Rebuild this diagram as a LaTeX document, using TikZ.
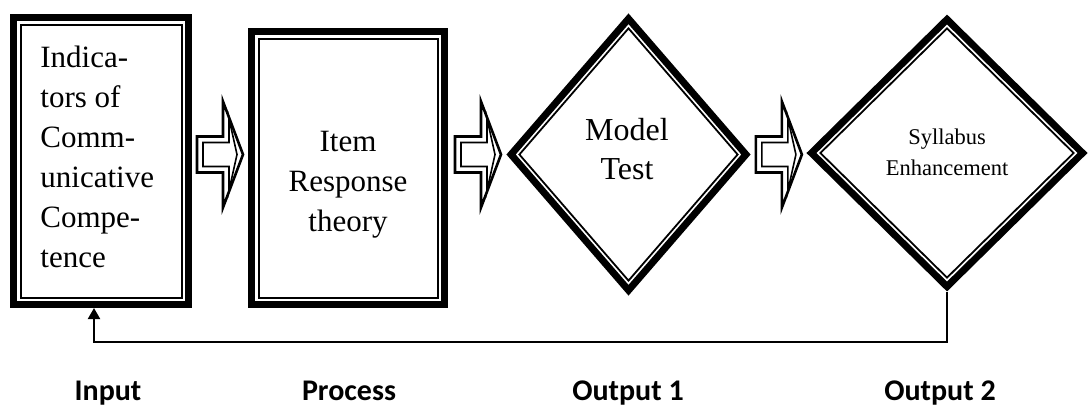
\documentclass[tikz,border=0pt]{standalone}
\usepackage{fontspec}
\setmainfont{Liberation Serif}
\newfontfamily\labelfont{Carlito}
\usetikzlibrary{shapes.geometric,arrows.meta,calc}

\tikzset{
  thickframe/.style={draw, line width=3.5pt, inner sep=0pt},
  thinframe/.style={draw, line width=1pt, inner sep=0pt},
  boxtext/.style={font=\fontsize{15.5}{20}\selectfont, inner sep=0pt},
  stagelabel/.style={font=\labelfont\bfseries\fontsize{15}{18}\selectfont, inner sep=0pt, anchor=base},
  feedback/.style={line width=1pt, -{Triangle[length=5.5pt,width=6pt]}},
  pics/blockarrow/.style={code={
    \draw[line width=1.3pt] (0,-18) -- (26,-18) -- (26,-53) -- (46,0) -- (26,53) -- (26,18) -- (0,18) -- cycle;
    \draw[line width=0.8pt] (6,-12) -- (32,-12) -- (32,-36) -- (40,0) -- (32,36) -- (32,12) -- (6,12) -- cycle;
  }}
}

\begin{document}
\begin{tikzpicture}[x=0.5pt, y=-0.5pt]
  \useasboundingbox (0,0) rectangle (1090,408);

  % Input box
  \node[thickframe, minimum width=87.5pt, minimum height=143.5pt] (input) at (101,161) {};
  \node[thinframe, minimum width=80.5pt, minimum height=136.5pt] (inputin) at (input.center) {};
  \node[boxtext, align=left, anchor=base west] (inputtext) at (40,267)
    {Indica-\\tors of\\Comm-\\unicative\\Compe-\\tence};

  % Process box
  \node[thickframe, minimum width=96.5pt, minimum height=136.5pt] (process) at (348,168) {};
  \node[thinframe, minimum width=89.5pt, minimum height=129.5pt] (processin) at (process.center) {};
  \node[boxtext, align=center, anchor=base] (processtext) at (348,231)
    {Item\\Response\\theory};

  % Output 1 diamond
  \node[thickframe, diamond, minimum width=118.9pt, minimum height=137.2pt] (test) at (628.5,154.5) {};
  \node[thinframe, diamond, line width=0.9pt, minimum width=109.5pt, minimum height=126.5pt] (testin) at (test.center) {};
  \node[boxtext, font=\fontsize{16}{19.5}\selectfont, align=center, anchor=base] (testtext) at (627,179)
    {Model\\Test};

  % Output 2 diamond
  \node[thickframe, diamond, minimum width=137pt, minimum height=135pt] (syllabus) at (947,153) {};
  \node[thinframe, diamond, line width=0.9pt, minimum width=127pt, minimum height=125pt] (syllabusin) at (syllabus.center) {};
  \node[boxtext, font=\fontsize{11.25}{15.5}\selectfont, align=center, anchor=base] (syllabustext) at (947,175)
    {Syllabus\\Enhancement};

  % Block arrows
  \path (input.east |- test.west) ++(5,0) pic {blockarrow};
  \path (process.east |- test.west) ++(7,0) pic {blockarrow};
  \path (test.east) ++(5,0) pic {blockarrow};

  % Feedback
  \draw[feedback] (syllabus.south) -- ++(0,50) -| ([xshift=-3.5pt]input.south);

  % Labels
  \node[stagelabel] (inputlabel) at (108,400) {Input};
  \node[stagelabel] (processlabel) at (349,400) {Process};
  \node[stagelabel] (testlabel) at (628,400) {Output 1};
  \node[stagelabel] (syllabuslabel) at (940,400) {Output 2};
\end{tikzpicture}
\end{document}
